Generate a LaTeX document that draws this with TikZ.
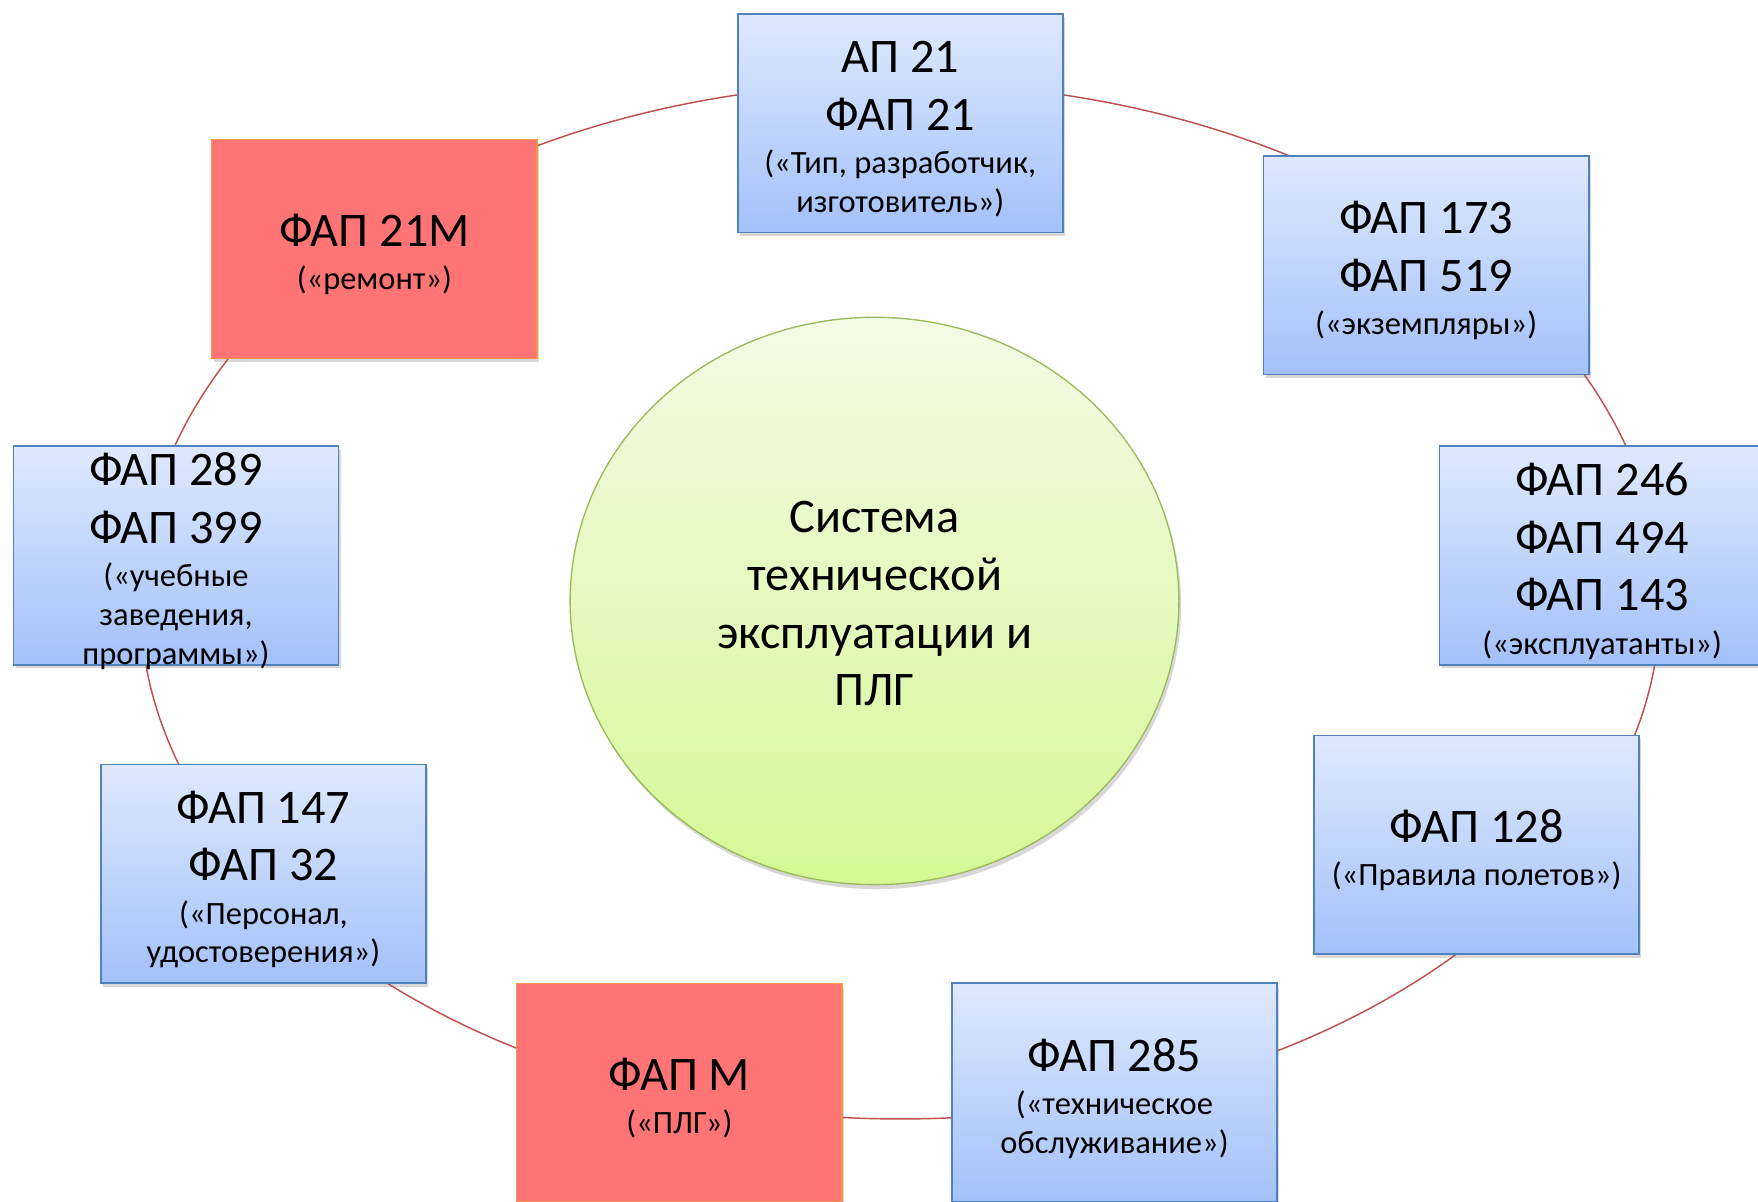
\documentclass[tikz,border=0pt]{standalone}
\usepackage{fontspec}
\setmainfont{Carlito}
\usetikzlibrary{shapes.geometric,shadows}
\definecolor{ringred}{RGB}{192,80,77}
\definecolor{bluetop}{RGB}{223,233,253}
\definecolor{bluebot}{RGB}{163,193,250}
\definecolor{blueline}{RGB}{79,129,189}
\definecolor{redfill}{RGB}{255,117,117}
\definecolor{orangeline}{RGB}{247,150,70}
\definecolor{greentop}{RGB}{243,251,230}
\definecolor{greenbot}{RGB}{214,248,150}
\definecolor{greenline}{RGB}{155,187,89}
\newcommand\bigtxt{\fontsize{43}{51.5}\selectfont}
\newcommand\smtxt{\fontsize{29}{34.5}\selectfont}
\newcommand\brbs{\\[-12.8pt]\smtxt}
\newcommand\brss{\\[-17pt]\smtxt}
\begin{document}
\begin{tikzpicture}[x=1pt,y=-1pt,
  box/.style={rectangle, minimum width=290pt, minimum height=195pt, inner sep=0pt},
  boxtext/.style={align=center, inner sep=0pt, font=\bigtxt, yshift=-5pt},
  softshadow/.style={drop shadow={shadow xshift=2pt,shadow yshift=-3pt,opacity=0.25,fill=black!60}},
  bluebox/.style={box, draw=blueline, line width=1.5pt, top color=bluetop,
    bottom color=bluebot, softshadow},
  redbox/.style={box, draw=orangeline, line width=1pt, fill=redfill, softshadow},
  ring/.style={draw=ringred, line width=1.3pt},
  hub/.style={ellipse, draw=greenline, line width=1.2pt, top color=greentop,
    bottom color=greenbot, minimum width=543pt, minimum height=506pt,
    inner sep=0pt,
    drop shadow={shadow xshift=2pt,shadow yshift=-4pt,opacity=0.25,fill=black!60}},
  hubtext/.style={align=center, inner sep=0pt, font=\bigtxt, yshift=-2.5pt}
]
\useasboundingbox (0,0) rectangle (1568,1072);
\clip (0,0) rectangle (1568,1072);
\fill[white] (0,0) rectangle (1568,1072);
\coordinate (ringc) at (803,536);
\draw[ring] (ringc) ellipse [x radius=678pt, y radius=462pt];
\node[hub] (hub) at (780,536) {};
\node[hubtext] (hubt) at (hub.center) {Система\\технической\\эксплуатации и\\ПЛГ};
% boxes
\node[bluebox] (ap21) at (803,110) {};
\node[redbox] (f21m) at (334,222) {};
\node[bluebox] (f173) at (1272,236.5) {};
\node[bluebox] (f289) at (157,495.5) {};
\node[bluebox] (f246) at (1429,495.5) {};
\node[bluebox] (f147) at (235,779.5) {};
\node[bluebox] (f128) at (1317,753.5) {};
\node[redbox] (fm) at (606,974.5) {};
\node[bluebox] (f285) at (994,974.5) {};
% texts
\node[boxtext] (ap21t) at (ap21.center) {АП 21\\ФАП 21\brbs («Тип, разработчик,\brss изготовитель»)};
\node[boxtext] (f21mt) at (f21m.center) {ФАП 21М\brbs («ремонт»)};
\node[boxtext] (f173t) at (f173.center) {ФАП 173\\ФАП 519\brbs («экземпляры»)};
\node[boxtext] (f289t) at (f289.center) {ФАП 289\\ФАП 399\brbs («учебные\brss заведения,\brss программы»)};
\node[boxtext] (f246t) at (f246.center) {ФАП 246\\ФАП 494\\ФАП 143\brbs («эксплуатанты»)};
\node[boxtext] (f147t) at (f147.center) {ФАП 147\\ФАП 32\brbs («Персонал,\brss удостоверения»)};
\node[boxtext] (f128t) at (f128.center) {ФАП 128\brbs («Правила полетов»)};
\node[boxtext] (fmt) at (fm.center) {ФАП М\brbs («ПЛГ»)};
\node[boxtext] (f285t) at (f285.center) {ФАП 285\brbs («техническое\brss обслуживание»)};
\end{tikzpicture}
\end{document}
